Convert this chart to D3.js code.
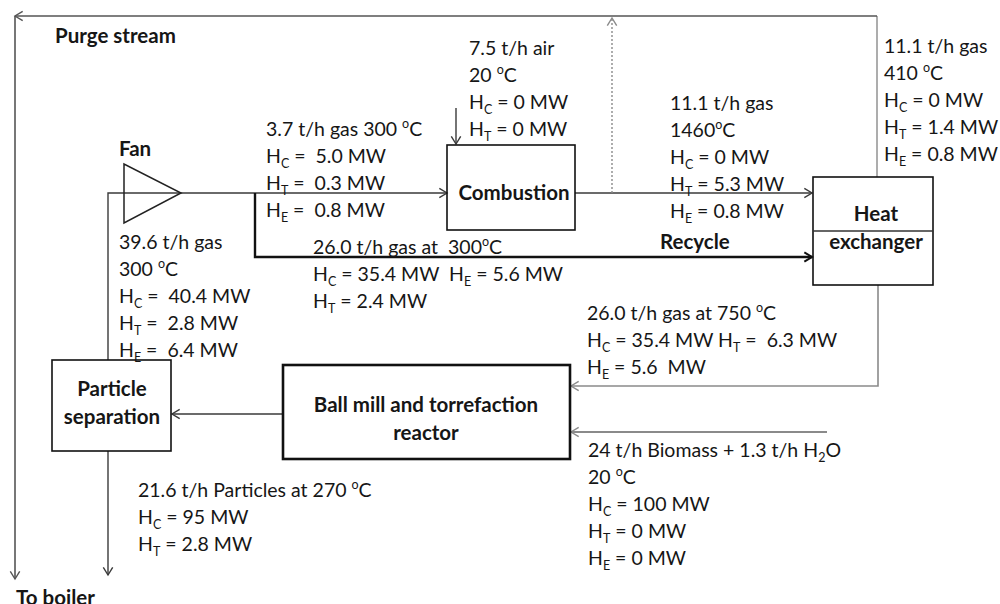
<!DOCTYPE html>
<html>
<head>
<meta charset="utf-8">
<script src="https://cdn.jsdelivr.net/npm/d3@7"></script>
<style>
  body { margin: 0; background: #fff; }
  svg text { font-family: Lato, "Open Sans", sans-serif; fill: #161616; white-space: pre; }
  .bold { font-weight: 700; }
</style>
</head>
<body>
<div id="chart"></div>
<script>
// unit operations (labels, one line per entry)
const unitLabels = [
  ["Combustion"],
  ["Heat", "exchanger"],
  ["Ball mill and torrefaction", "reactor"],
  ["Particle", "separation"]
];
// free labels
const titleLabels = ["Purge stream", "Fan", "Recycle", "To boiler"];

// stream tables  (_X = subscript, ° = superscript o)
const streamFanOut   = ["3.7 t/h gas 300 °C", "H_C =  5.0 MW", "H_T =  0.3 MW", "H_E =  0.8 MW"];
const streamAir      = ["7.5 t/h air", "20 °C", "H_C = 0 MW", "H_T = 0 MW"];
const streamFlue     = ["11.1 t/h gas", "1460°C", "H_C = 0 MW", "H_T = 5.3 MW", "H_E = 0.8 MW"];
const streamPurge    = ["11.1 t/h gas", "410 °C", "H_C = 0 MW", "H_T = 1.4 MW", "H_E = 0.8 MW"];
const streamSepOut   = ["39.6 t/h gas", "300 °C", "H_C =  40.4 MW", "H_T =  2.8 MW", "H_E =  6.4 MW"];
const streamRecycle  = ["26.0 t/h gas at  300°C", "H_C = 35.4 MW  H_E = 5.6 MW", "H_T = 2.4 MW"];
const streamHot      = ["26.0 t/h gas at 750 °C", "H_C = 35.4 MW H_T =  6.3 MW", "H_E = 5.6  MW"];
const streamBiomass  = ["24 t/h Biomass + 1.3 t/h H_2O", "20 °C", "H_C = 100 MW", "H_T = 0 MW", "H_E = 0 MW"];
const streamProduct  = ["21.6 t/h Particles at 270 °C", "H_C = 95 MW", "H_T = 2.8 MW"];

// ---- layout (pixel positions of the drawing) ----
const W = 1000, H = 604;
const boxes = [
  {x0: 447, y0: 145, x1: 575, y1: 230, cx: 514, ty: [192], w: 1.6},
  {x0: 813, y0: 177, x1: 933, y1: 285, cx: 876, ty: [213, 241], w: 1.6},
  {x0: 283, y0: 365, x1: 570, y1: 459, cx: 426, ty: [404, 432], w: 2.6},
  {x0: 52,  y0: 360, x1: 171, y1: 451, cx: 112, ty: [388, 416], w: 1.6}
];
const titlePos = [[55, 35], [119, 148], [660, 241], [16, 597]];
const blocks = [
  {lines: streamFanOut,  x: 266, y: 128},
  {lines: streamAir,     x: 469, y: 47},
  {lines: streamFlue,    x: 670, y: 102},
  {lines: streamPurge,   x: 884, y: 45},
  {lines: streamSepOut,  x: 119, y: 241},
  {lines: streamRecycle, x: 313, y: 246},
  {lines: streamHot,     x: 587, y: 312},
  {lines: streamBiomass, x: 588, y: 449},
  {lines: streamProduct, x: 138, y: 489}
];
const lineGap = 27;

const dark = "#3a3a3a", mid = "#555", grey = "#8a8a8a";
const flows = [
  {pts: [[877, 177], [877, 16]], c: grey, w: 1.4, arrow: false},
  {pts: [[877, 16], [15, 16]], c: mid, w: 1.6, arrow: true},
  {pts: [[15, 16], [15, 579]], c: mid, w: 1.6, arrow: true},
  {pts: [[108, 360], [108, 193], [447, 193]], c: dark, w: 1.4, arrow: true},
  {pts: [[255, 193], [255, 257], [812, 257]], c: "#111", w: 2.4, arrow: true},
  {pts: [[456, 108], [456, 144]], c: dark, w: 1.4, arrow: true},
  {pts: [[575, 193], [812, 193]], c: dark, w: 1.6, arrow: true},
  {pts: [[612, 193], [612, 18]], c: grey, w: 1.4, arrow: true, dash: "2,2"},
  {pts: [[878, 285], [878, 386], [571, 386]], c: grey, w: 1.6, arrow: true},
  {pts: [[827, 432], [571, 432]], c: grey, w: 1.8, arrow: true},
  {pts: [[283, 414], [172, 414]], c: dark, w: 1.4, arrow: true},
  {pts: [[108, 451], [108, 575]], c: dark, w: 1.4, arrow: true}
];
const fan = [[124, 164], [124, 223], [181, 193]];

const svg = d3.select("#chart").append("svg")
  .attr("width", W).attr("height", H);

const line = d3.line();

// flow lines
svg.append("g").selectAll("path.flow")
  .data(flows)
  .enter().append("path")
  .attr("class", "flow")
  .attr("d", d => line(d.pts))
  .attr("fill", "none")
  .attr("stroke", d => d.c)
  .attr("stroke-width", d => d.w)
  .attr("stroke-dasharray", d => d.dash || null);

// open chevron arrow heads at the end of each flow
function chevron(d) {
  const p2 = d.pts[d.pts.length - 1], p1 = d.pts[d.pts.length - 2];
  const a = Math.atan2(p2[1] - p1[1], p2[0] - p1[0]);
  const len = 9, spread = 0.55;
  const l = [p2[0] - len * Math.cos(a - spread), p2[1] - len * Math.sin(a - spread)];
  const r = [p2[0] - len * Math.cos(a + spread), p2[1] - len * Math.sin(a + spread)];
  return line([l, p2, r]);
}
svg.append("g").selectAll("path.head")
  .data(flows.filter(d => d.arrow))
  .enter().append("path")
  .attr("d", chevron)
  .attr("fill", "none")
  .attr("stroke", d => d.c)
  .attr("stroke-width", d => Math.max(1.4, d.w - 0.4));

// fan
svg.append("path")
  .attr("d", line(fan) + "Z")
  .attr("fill", "none")
  .attr("stroke", "#222")
  .attr("stroke-width", 1.5);

// unit boxes
const units = svg.append("g").selectAll("g.unit")
  .data(boxes)
  .enter().append("g").attr("class", "unit");
units.append("rect")
  .attr("x", d => d.x0).attr("y", d => d.y0)
  .attr("width", d => d.x1 - d.x0).attr("height", d => d.y1 - d.y0)
  .attr("fill", "none").attr("stroke", "#111")
  .attr("stroke-width", d => d.w);
// divider inside heat exchanger
svg.append("line")
  .attr("x1", boxes[1].x0).attr("x2", boxes[1].x1)
  .attr("y1", 231).attr("y2", 231)
  .attr("stroke", "#333").attr("stroke-width", 1.6);

units.each(function(d, i) {
  d3.select(this).selectAll("text")
    .data(unitLabels[i])
    .enter().append("text")
    .attr("class", "bold")
    .attr("x", d.cx)
    .attr("y", (t, j) => d.ty[j])
    .attr("dominant-baseline", "central")
    .attr("text-anchor", "middle")
    .style("font-size", "20.5px")
    .text(t => t);
});

// titles
svg.append("g").selectAll("text")
  .data(titleLabels)
  .enter().append("text")
  .attr("class", "bold")
  .attr("x", (d, i) => titlePos[i][0])
  .attr("y", (d, i) => titlePos[i][1])
  .attr("dominant-baseline", "central")
  .style("font-size", "20.5px")
  .text(d => d);

// rich text: subscripts and superscript "o"
function rich(sel, str) {
  const parts = str.split(/(_\w|°)/);
  let shift = 0;
  parts.forEach(p => {
    if (!p) return;
    let dy = 0, small = false, s = p;
    if (p[0] === "_" && p.length === 2) { dy = 8; small = true; s = p[1]; }
    else if (p === "°") { dy = -5; small = true; s = "o"; }
    const t = sel.append("tspan").attr("dy", dy - shift).text(s);
    if (small) t.style("font-size", "12.5px");
    shift = dy;
  });
}

blocks.forEach(b => {
  const g = svg.append("g");
  g.selectAll("text")
    .data(b.lines)
    .enter().append("text")
    .attr("x", b.x)
    .attr("y", (d, i) => b.y + i * lineGap)
    .attr("dominant-baseline", "central")
    .style("font-size", "19.5px")
    .each(function(d) { rich(d3.select(this), d); });
});
</script>
</body>
</html>
